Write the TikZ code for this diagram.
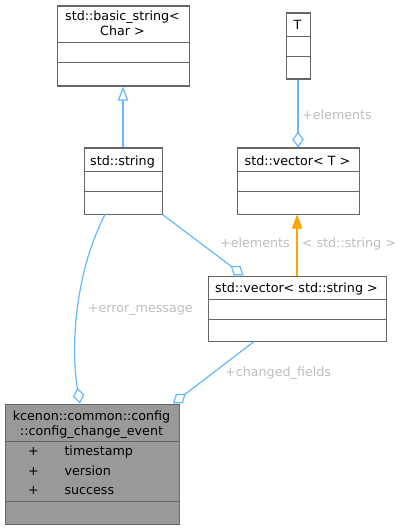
\documentclass[tikz,border=0pt]{standalone}
\usepackage{fontspec}
\setmainfont{DejaVu Sans}
\usetikzlibrary{arrows.meta}
\definecolor{edgeblue}{HTML}{63B8FF}
\definecolor{edgeorange}{HTML}{FFA500}
\definecolor{boxc}{HTML}{666666}
\definecolor{labc}{HTML}{BEBEBE}
\definecolor{mainfill}{HTML}{999999}
\begin{document}
\begin{tikzpicture}[x=1pt,y=-1pt,
  font=\fontsize{12.7}{15}\selectfont,
  cls/.style={draw=boxc, line width=1.1pt, fill=white, inner sep=0pt, anchor=north west},
  divl/.style={draw=boxc, line width=1.1pt},
  txt/.style={inner sep=0pt, anchor=base, text=black},
  mtxt/.style={inner sep=0pt, anchor=base west, text=black},
  lab/.style={inner sep=0pt, anchor=base west, text=labc},
  conn/.style={draw=edgeblue, line width=1.2pt},
  agg/.style={conn, -{Diamond[open, length=16pt, width=11.5pt]}},
  inh/.style={conn, -{Triangle[open, length=14pt, width=10.5pt]}},
  tmpl/.style={draw=edgeorange, line width=1.2pt, -{Triangle[fill=edgeorange, length=14pt, width=10.5pt]}}
]
\fill[white] (0,0) rectangle (403,529);
\useasboundingbox (0,0) rectangle (403,529);

% std::basic_string< Char >
\node[cls, minimum width=132pt, minimum height=80pt] (bs) at (56.5,5.5) {};
\draw[divl] (bs.west |- 0,42.5) -- (bs.east |- 0,42.5);
\draw[divl] (bs.west |- 0,62.5) -- (bs.east |- 0,62.5);
\node[txt] (bst1) at (122.5,21) {std::basic\_string<};
\node[txt] (bst2) at (122.5,35.5) {Char >};

% T
\node[cls, minimum width=24pt, minimum height=66pt] (T) at (285.5,12.5) {};
\draw[divl] (T.west |- 0,36.5) -- (T.east |- 0,36.5);
\draw[divl] (T.west |- 0,56.5) -- (T.east |- 0,56.5);
\node[txt] (Tt) at (297.5,29.5) {T};

% std::string
\node[cls, minimum width=78pt, minimum height=66pt] (str) at (83.5,147.5) {};
\draw[divl] (str.west |- 0,171.5) -- (str.east |- 0,171.5);
\draw[divl] (str.west |- 0,191.5) -- (str.east |- 0,191.5);
\node[txt] (strt) at (122.5,165.5) {std::string};

% std::vector< T >
\node[cls, minimum width=122pt, minimum height=66pt] (vT) at (236.5,147.5) {};
\draw[divl] (vT.west |- 0,171.5) -- (vT.east |- 0,171.5);
\draw[divl] (vT.west |- 0,191.5) -- (vT.east |- 0,191.5);
\node[txt] (vTt) at (297.5,165.5) {std::vector< T >};

% std::vector< std::string >
\node[cls, minimum width=178pt, minimum height=65pt] (vs) at (207.5,275.5) {};
\draw[divl] (vs.west |- 0,299.5) -- (vs.east |- 0,299.5);
\draw[divl] (vs.west |- 0,319.5) -- (vs.east |- 0,319.5);
\node[txt] (vst) at (296.5,292.8) {std::vector< std::string >};

% main class
\node[cls, fill=mainfill, minimum width=174pt, minimum height=120pt] (main) at (4.5,403.5) {};
\draw[divl] (main.west |- 0,441.5) -- (main.east |- 0,441.5);
\draw[divl] (main.west |- 0,501.5) -- (main.east |- 0,501.5);
\node[txt] (mt1) at (91.5,420.8) {kcenon::common::config};
\node[txt] (mt2) at (91.5,435.5) {::config\_change\_event};
\node[txt] (p1) at (33.5,455) {+};
\node[txt] (p2) at (33.5,475) {+};
\node[txt] (p3) at (33.5,494.5) {+};
\node[mtxt] (m1) at (64.3,455) {timestamp};
\node[mtxt] (m2) at (64.3,475) {version};
\node[mtxt] (m3) at (64.3,494.5) {success};

% connectors
\draw[inh] (str.north) -- (str.north |- bs.south);
\draw[agg] (T.south) -- (T.south |- vT.north);
\draw[tmpl] (vs.north) -- (vs.north |- vT.south);
\draw[agg] (str.south east) -- ([xshift=36pt]vs.north west);
\draw[agg] ([xshift=21.5pt]str.south west) .. controls (76,270) and (70,345) .. ([xshift=75.5pt]main.north west);
\draw[agg] ([xshift=46.5pt]vs.south west) -- ([xshift=168.5pt]main.north west);

% labels
\node[lab] (l1) at (302,119.5) {+elements};
\node[lab] (l2) at (220,247.5) {+elements};
\node[lab] (l3) at (301.7,247.5) {< std::string >};
\node[lab] (l4) at (87.7,312) {+error\_message};
\node[lab] (l5) at (225,376) {+changed\_fields};
\end{tikzpicture}
\end{document}
